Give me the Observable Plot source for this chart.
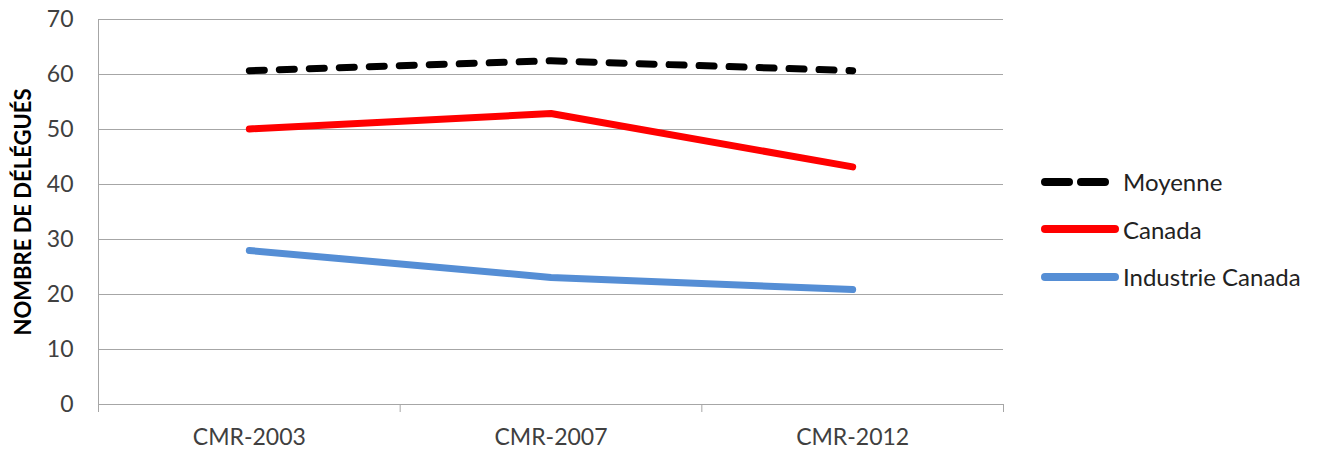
<!DOCTYPE html>
<html>
<head>
<meta charset="utf-8">
<script src="https://cdn.jsdelivr.net/npm/d3@7"></script>
<script src="https://cdn.jsdelivr.net/npm/@observablehq/plot@0.6"></script>
<style>
  html, body { margin: 0; padding: 0; background: #fff; }
  #wrap { position: relative; width: 1324px; height: 452px; font-family: Lato, "Open Sans", sans-serif; }
  #legend { position: absolute; left: 1040px; top: 158px; }
  .row { display: flex; align-items: center; height: 47.5px; font-size: 24px; color: #222; }
  .row svg { margin-right: 3px; }
  #ytitle { position: absolute; left: 22px; top: 212px; transform: translate(-50%, -50%) rotate(-90deg);
            font-weight: bold; font-size: 22px; white-space: nowrap; color: #000; }
</style>
</head>
<body>
<div id="wrap"></div>
<script>
const categories = ["CMR-2003", "CMR-2007", "CMR-2012"];
const moyenne = [60.7, 62.5, 60.7];
const canada = [50.1, 52.9, 43.2];
const industrie = [28.0, 23.1, 20.9];
const seriesNames = ["Moyenne", "Canada", "Industrie Canada"];
const seriesColors = ["#000000", "#ff0000", "#558ed5"];
const yTicks = [0, 10, 20, 30, 40, 50, 60, 70];

const rows = [];
[moyenne, canada, industrie].forEach((vals, s) =>
  vals.forEach((v, i) => rows.push({series: seriesNames[s], i, value: v})));

const grid = "#a6a6a6";
const font = "Lato, 'Open Sans', sans-serif";

const chart = Plot.plot({
  width: 1324,
  height: 452,
  marginTop: 19,
  marginBottom: 48,
  marginLeft: 98,
  marginRight: 321,
  style: {fontFamily: font, fontSize: "23px", color: "#404040", background: "transparent"},
  x: {type: "linear", domain: [-0.5, categories.length - 0.5]},
  y: {domain: [0, 70]},
  marks: [
    Plot.ruleY(yTicks, {stroke: grid, strokeWidth: 1}),
    Plot.axisY({ticks: yTicks, tickSize: 0, tickPadding: 25, label: null, fontSize: 23, fill: "#404040"}),
    Plot.axisX({ticks: d3.range(categories.length + 1).map(d => d - 0.5), tickSize: 8, tickFormat: () => "", stroke: grid, label: null}),
    Plot.axisX({ticks: d3.range(categories.length), tickSize: 0, tickPadding: 24, tickFormat: i => categories[i], label: null, fontSize: 23, fill: "#404040"}),
    Plot.ruleX([-0.5], {y1: 0, y2: 70, stroke: grid, strokeWidth: 1}),
    Plot.line(rows.filter(d => d.series === "Industrie Canada"), {x: "i", y: "value", stroke: seriesColors[2], strokeWidth: 7, strokeLinecap: "round", strokeLinejoin: "round"}),
    Plot.line(rows.filter(d => d.series === "Canada"), {x: "i", y: "value", stroke: seriesColors[1], strokeWidth: 7, strokeLinecap: "round", strokeLinejoin: "round"}),
    Plot.line(rows.filter(d => d.series === "Moyenne"), {x: "i", y: "value", stroke: seriesColors[0], strokeWidth: 7, strokeLinecap: "round", strokeLinejoin: "round", strokeDasharray: "15,15"})
  ]
});

const wrap = document.getElementById("wrap");
wrap.appendChild(chart);

const yt = document.createElement("div");
yt.id = "ytitle";
yt.textContent = "NOMBRE DE DÉLÉGUÉS";
wrap.appendChild(yt);

const legend = document.createElement("div");
legend.id = "legend";
seriesNames.forEach((name, s) => {
  const row = document.createElement("div");
  row.className = "row";
  const dash = s === 0 ? ' stroke-dasharray="24,12"' : "";
  row.innerHTML = `<svg width="80" height="12"><line x1="5" y1="6" x2="75" y2="6" stroke="${seriesColors[s]}" stroke-width="8" stroke-linecap="round"${dash}/></svg><span>${name}</span>`;
  legend.appendChild(row);
});
wrap.appendChild(legend);
</script>
</body>
</html>
